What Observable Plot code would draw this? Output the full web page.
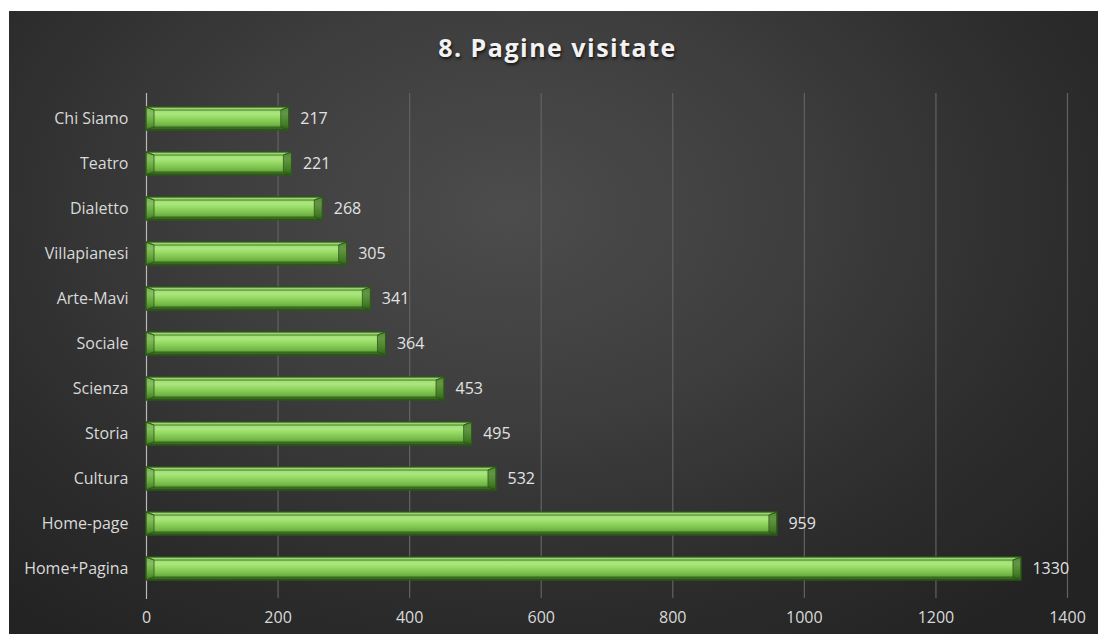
<!DOCTYPE html>
<html>
<head>
<meta charset="utf-8">
<script src="https://cdn.jsdelivr.net/npm/d3@7"></script>
<script src="https://cdn.jsdelivr.net/npm/@observablehq/plot@0.6"></script>
<style>
  html, body { margin: 0; padding: 0; background: #ffffff; width: 1098px; height: 634px; overflow: hidden; }
  #frame {
    position: absolute; left: 9px; top: 11px; width: 1089px; height: 623px;
    background: radial-gradient(ellipse 70% 85% at 46% 32%, #4c4c4c 0%, #3e3e3e 38%, #2d2d2d 72%, #232323 100%);
  }
  #title {
    position: absolute; left: 4px; top: 19px; width: 1089px; text-align: center;
    font-family: "Open Sans", sans-serif; font-weight: 700; font-size: 25px; letter-spacing: 1.5px;
    color: #f2f2f2; text-shadow: 1px 2px 3px rgba(0,0,0,0.7);
  }
  #chart { position: absolute; left: 0; top: 59px; }
</style>
</head>
<body>
<div id="frame">
  <div id="title">8. Pagine visitate</div>
  <div id="chart"></div>
</div>
<script>
const pages = ["Chi Siamo","Teatro","Dialetto","Villapianesi","Arte-Mavi","Sociale","Scienza","Storia","Cultura","Home-page","Home+Pagina"];
const visits = [217,221,268,305,341,364,453,495,532,959,1330];
const xTicks = [0,200,400,600,800,1000,1200,1400];

const data = pages.map((p, i) => ({page: p, value: visits[i]}));

const defs = () => {
  const d = d3.create("svg:defs");
  const g = d.append("linearGradient").attr("id", "barGrad").attr("x1", 0).attr("y1", 0).attr("x2", 0).attr("y2", 1);
  [[0, "#6aa83f"], [0.1, "#9ddc6d"], [0.3, "#aae67e"], [0.5, "#92d660"], [0.75, "#74b948"], [0.9, "#5c9a35"], [1, "#3e6f22"]]
    .forEach(([o, c]) => g.append("stop").attr("offset", o).attr("stop-color", c));
  return d.node();
};

const chart = Plot.plot({
  width: 1089,
  height: 564,
  marginLeft: 137,
  marginRight: 31,
  marginTop: 23,
  marginBottom: 40,
  style: {background: "transparent", color: "#d9d9d9", fontFamily: "'Open Sans', sans-serif", fontSize: "16px"},
  x: {domain: [0, 1400], ticks: xTicks, label: null, tickSize: 0, tickPadding: 17, tickFormat: d => String(d)},
  y: {domain: pages, paddingInner: 0.5, paddingOuter: 0.25, label: null, tickSize: 0, tickPadding: 18},
  marks: [
    defs,
    Plot.ruleX(xTicks.filter(t => t > 0), {stroke: "#626262", strokeWidth: 1.2, insetBottom: -4}),
    Plot.ruleX([0], {stroke: "#b8b8b8", strokeWidth: 1.2, insetBottom: -5}),
    Plot.barX(data, {x: "value", y: "page", fill: "url(#barGrad)", stroke: "#2f5c18", strokeWidth: 0.8}),
    Plot.text(data, {x: "value", y: "page", text: d => String(d.value), textAnchor: "start", dx: 11, fill: "#e2e2e2", fontSize: 16})
  ]
});

// bevel facets on the rendered bars
const ns = "http://www.w3.org/2000/svg";
chart.querySelectorAll('g[aria-label="bar"] rect').forEach(r => {
  const x = +r.getAttribute("x"), y = +r.getAttribute("y");
  const w = +r.getAttribute("width"), h = +r.getAttribute("height");
  const b = 8, t = 3;
  const add = (pts, fill) => {
    const p = document.createElementNS(ns, "polygon");
    p.setAttribute("points", pts.map(q => q.join(",")).join(" "));
    p.setAttribute("fill", fill);
    r.parentNode.appendChild(p);
  };
  add([[x, y], [x + w, y], [x + w - b, y + t], [x + b, y + t]], "rgba(200,255,170,0.25)");
  add([[x, y + h], [x + w, y + h], [x + w - b, y + h - t], [x + b, y + h - t]], "rgba(0,30,0,0.3)");
  add([[x + w, y], [x + w, y + h], [x + w - b, y + h - t], [x + w - b, y + t]], "rgba(10,50,0,0.45)");
  add([[x, y], [x, y + h], [x + b, y + h - t], [x + b, y + t]], "rgba(10,50,0,0.22)");
});

document.getElementById("chart").appendChild(chart);
</script>
</body>
</html>
